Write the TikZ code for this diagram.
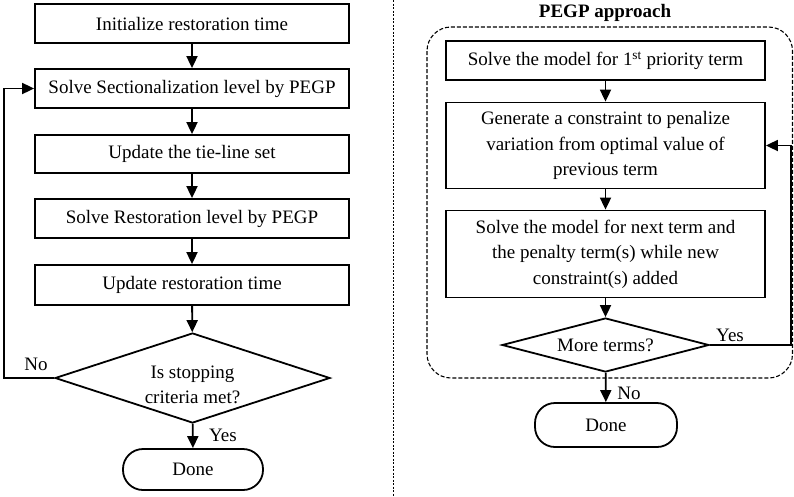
\documentclass[tikz,border=0pt]{standalone}
\usepackage{fontspec}
\setmainfont{Liberation Serif}
\usetikzlibrary{shapes.geometric,arrows.meta}
\begin{document}
\begin{tikzpicture}[x=1pt,y=-1pt,
  font=\fontsize{19}{25.5}\selectfont,
  box/.style={draw, line width=1.8pt, rectangle, align=center, inner sep=2pt},
  decision/.style={draw, line width=1.8pt, diamond, align=center, inner sep=0pt},
  terminal/.style={draw, line width=1.8pt, rectangle, rounded corners=20pt, align=center},
  arr/.style={line width=1.8pt, -{Triangle[length=12pt,width=11pt]}},
  lbl/.style={inner sep=0pt}]
\useasboundingbox (0,0) rectangle (794,496);

% ---------- left flowchart ----------
\node[box, minimum width=314pt, minimum height=39pt] (b1) at (192,23.5) {Initialize restoration time};
\node[box, minimum width=314pt, minimum height=39pt] (b2) at (192,88.5) {Solve Sectionalization level by PEGP};
\node[box, minimum width=314pt, minimum height=38pt] (b3) at (192,154) {Update the tie-line set};
\node[box, minimum width=314pt, minimum height=39pt] (b4) at (192,218.5) {Solve Restoration level by PEGP};
\node[box, minimum width=314pt, minimum height=40pt] (b5) at (192,285) {Update restoration time};
\node[decision, minimum width=275pt, minimum height=90pt, aspect=3.05] (d1) at (192.5,378) {};
\node[align=center, inner sep=0pt] (d1text) at ([yshift=-7pt]d1.center) {Is stopping\\criteria met?};
\node[terminal, minimum width=140pt, minimum height=41pt] (e1) at (193,469.5) {Done};

\draw[arr] (b1) -- (b2);
\draw[arr] (b2) -- (b3);
\draw[arr] (b3) -- (b4);
\draw[arr] (b4) -- (b5);
\draw[arr] (b5) -- (d1);
\draw[arr] (d1) -- (e1);
\draw[arr] (d1.west) -- ++(-50,0) |- (b2.west);
\node[lbl] (no1) at (36,364) {No};
\node[lbl] (yes1) at (223,435) {Yes};

% ---------- divider ----------
\coordinate (dtop) at (393,0);
\coordinate (dbot) at (393,496);
\draw[line width=0.8pt, dash pattern=on 2pt off 1.5pt] (dtop) -- (dbot);

% ---------- right flowchart: PEGP approach ----------
\node[font=\fontsize{19}{22}\selectfont\bfseries, anchor=base, inner sep=0pt] (title) at (605,17) {PEGP approach};
\draw[line width=1.1pt, dash pattern=on 4pt off 2pt, rounded corners=24pt] (427,27) rectangle (792.5,378);

\node[box, minimum width=319pt, minimum height=39pt] (r1) at (605.5,60.5) {Solve the model for 1\textsuperscript{st} priority term};
\node[box, minimum width=319pt, minimum height=86pt] (r2) at (605.5,145.5) {Generate a constraint to penalize\\variation from optimal value of\\previous term};
\node[box, minimum width=319pt, minimum height=87pt] (r3) at (605.5,254) {Solve the model for next term and\\the penalty term(s) while new\\constraint(s) added};
\node[decision, minimum width=207pt, minimum height=54pt, aspect=3.83] (d2) at (605.5,345) {More terms?};
\node[terminal, minimum width=142pt, minimum height=44pt] (e2) at (606,425) {Done};

\draw[arr] (r1) -- (r2);
\draw[arr] (r2) -- (r3);
\draw[arr] (r3) -- (d2);
\draw[arr] (d2) -- (e2);
\draw[arr] (d2.east) -- ++(81,0) |- (r2.east);
\node[lbl] (yes2) at (730,335) {Yes};
\node[lbl] (no2) at (629,393) {No};
\end{tikzpicture}
\end{document}
